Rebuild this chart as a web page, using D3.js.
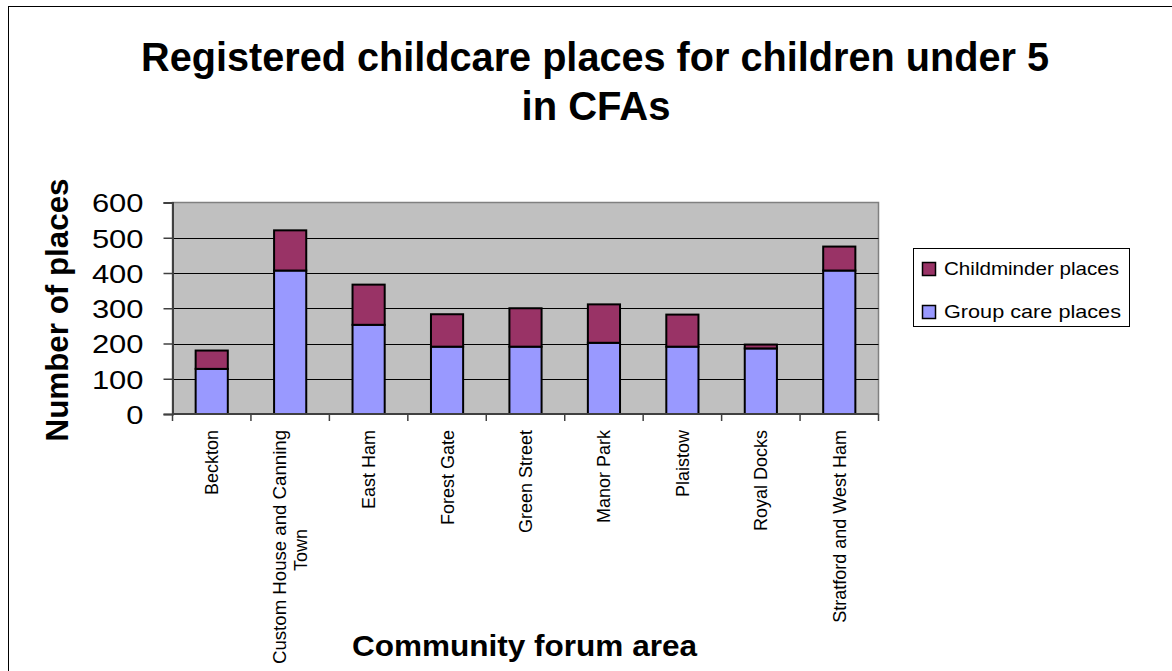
<!DOCTYPE html>
<html>
<head>
<meta charset="utf-8">
<script src="https://cdn.jsdelivr.net/npm/d3@7"></script>
<style>
  html, body { margin: 0; padding: 0; background: #fff; }
  svg { display: block; font-family: "Liberation Sans", Arial, sans-serif; }
</style>
</head>
<body>
<svg id="chart" width="1172" height="671"></svg>
<script>
// ---- data ----
const categories = ["Beckton", "Custom House and Canning Town", "East Ham", "Forest Gate",
  "Green Street", "Manor Park", "Plaistow", "Royal Docks", "Stratford and West Ham"];
const groupCare = [128, 407, 253, 191, 191, 202, 191, 186, 407];
const childminder = [52, 114, 114, 92, 109, 109, 91, 11, 68];
const yTicks = [0, 100, 200, 300, 400, 500, 600];
const seriesNames = ["Childminder places", "Group care places"];
const titleLines = ["Registered childcare places for children under 5", "in CFAs"];
const categoryLabelLines = [["Beckton"], ["Custom House and Canning", "Town"], ["East Ham"], ["Forest Gate"],
  ["Green Street"], ["Manor Park"], ["Plaistow"], ["Royal Docks"], ["Stratford and West Ham"]];

const colors = { group: "#9999FF", child: "#993366", plot: "#C0C0C0" };

const svg = d3.select("#chart");
const plot = { left: 172.5, right: 878.5, top: 202.5, bottom: 414 };

// outer chart border
svg.append("rect").attr("x", 8.5).attr("y", 6.5).attr("width", 1180).attr("height", 700)
  .attr("fill", "#fff").attr("stroke", "#000").attr("stroke-width", 1);

const x = d3.scaleBand().domain(categories).range([plot.left, plot.right])
  .paddingInner(0.59).paddingOuter(0.295);
const y = d3.scaleLinear().domain([0, 600]).range([plot.bottom, plot.top]);

// plot background
svg.append("rect").attr("x", plot.left).attr("y", plot.top)
  .attr("width", plot.right - plot.left).attr("height", plot.bottom - plot.top)
  .attr("fill", colors.plot).attr("stroke", "#808080").attr("stroke-width", 1.5);

// gridlines
svg.append("g").selectAll("line").data(yTicks.filter(t => t > 0 && t < 600)).join("line")
  .attr("x1", plot.left).attr("x2", plot.right)
  .attr("y1", d => Math.round(y(d)) + 0.5).attr("y2", d => Math.round(y(d)) + 0.5)
  .attr("stroke", "#000").attr("stroke-width", 1);

// stacked bars
const stackData = categories.map((c, i) => ({ cat: c, group: groupCare[i], child: childminder[i] }));
const stack = d3.stack().keys(["group", "child"])(stackData);
const fills = { group: colors.group, child: colors.child };
svg.append("g").selectAll("g").data(stack).join("g")
  .attr("fill", d => fills[d.key])
  .selectAll("rect").data(d => d).join("rect")
  .attr("x", d => x(d.data.cat))
  .attr("y", d => y(d[1]))
  .attr("width", x.bandwidth())
  .attr("height", d => y(d[0]) - y(d[1]))
  .attr("stroke", "#000").attr("stroke-width", 2);

// y axis
const yAxis = d3.axisLeft(y).tickValues(yTicks).tickSize(9).tickPadding(0).tickFormat(d3.format("d"));
const yg = svg.append("g").attr("transform", `translate(${plot.left},0)`).call(yAxis);
yg.select(".domain").attr("stroke", "#404040").attr("stroke-width", 2);
yg.selectAll(".tick line").attr("stroke", "#404040").attr("stroke-width", 1.5);
yg.selectAll(".tick text").attr("x", -29).attr("dy", "0.36em")
  .attr("font-size", 26).attr("fill", "#000")
  .attr("font-family", "'Liberation Sans', Arial, sans-serif")
  .attr("textLength", d => String(d).length * 17.2).attr("lengthAdjust", "spacingAndGlyphs");

// x axis
const xg = svg.append("g").attr("transform", `translate(0,${plot.bottom})`);
xg.append("line").attr("x1", plot.left).attr("x2", plot.right).attr("y1", 0).attr("y2", 0)
  .attr("stroke", "#404040").attr("stroke-width", 2);
const bounds = d3.range(categories.length + 1).map(i => plot.left + i * x.step());
xg.selectAll("line.t").data(bounds).join("line").attr("class", "t")
  .attr("x1", d => d).attr("x2", d => d).attr("y1", 0).attr("y2", 7)
  .attr("stroke", "#404040").attr("stroke-width", 1.5);

// category labels (rotated)
categories.forEach((c, i) => {
  const lines = categoryLabelLines[i];
  const cx = x(c) + x.bandwidth() / 2;
  const n = lines.length;
  lines.forEach((ln, j) => {
    const off = (j - (n - 1) / 2) * 21;
    svg.append("text")
      .attr("transform", `translate(${cx + off + 6.5},430) rotate(-90)`)
      .attr("text-anchor", n > 1 && j > 0 ? "middle" : "end")
      .attr("x", n > 1 && j > 0 ? -120 : 0)
      .attr("font-size", 18).attr("fill", "#000")
      .attr("textLength", n > 1 && j === 0 ? 234 : null)
      .attr("lengthAdjust", "spacingAndGlyphs")
      .text(ln);
  });
});

// title
svg.append("text").attr("x", 595).attr("y", 70.5).attr("text-anchor", "middle")
  .attr("font-size", 40).attr("font-weight", "bold")
  .attr("textLength", 908).attr("lengthAdjust", "spacingAndGlyphs")
  .text(titleLines[0]);
svg.append("text").attr("x", 596).attr("y", 120).attr("text-anchor", "middle")
  .attr("font-size", 40).attr("font-weight", "bold")
  .text(titleLines[1]);

// y axis title
svg.append("text").attr("transform", "translate(68,310) rotate(-90)")
  .attr("text-anchor", "middle").attr("font-size", 31).attr("font-weight", "bold")
  .attr("textLength", 263).attr("lengthAdjust", "spacingAndGlyphs")
  .text("Number of places");

// x axis title
svg.append("text").attr("x", 524.5).attr("y", 656).attr("text-anchor", "middle")
  .attr("font-size", 30).attr("font-weight", "bold")
  .attr("textLength", 345).attr("lengthAdjust", "spacingAndGlyphs")
  .text("Community forum area");

// legend
const lg = svg.append("g");
lg.append("rect").attr("x", 913.5).attr("y", 248.5).attr("width", 216).attr("height", 78)
  .attr("fill", "#fff").attr("stroke", "#000").attr("stroke-width", 1);
const legendFills = [colors.child, colors.group];
seriesNames.forEach((s, i) => {
  const yy = 262.5 + i * 43;
  lg.append("rect").attr("x", 922.5).attr("y", yy).attr("width", 13).attr("height", 13)
    .attr("fill", legendFills[i]).attr("stroke", "#000").attr("stroke-width", 1.5);
  lg.append("text").attr("x", 944).attr("y", yy + 12)
    .attr("font-size", 19).attr("fill", "#000")
    .attr("textLength", i === 0 ? 175 : 177).attr("lengthAdjust", "spacingAndGlyphs")
    .text(s);
});
</script>
</body>
</html>
